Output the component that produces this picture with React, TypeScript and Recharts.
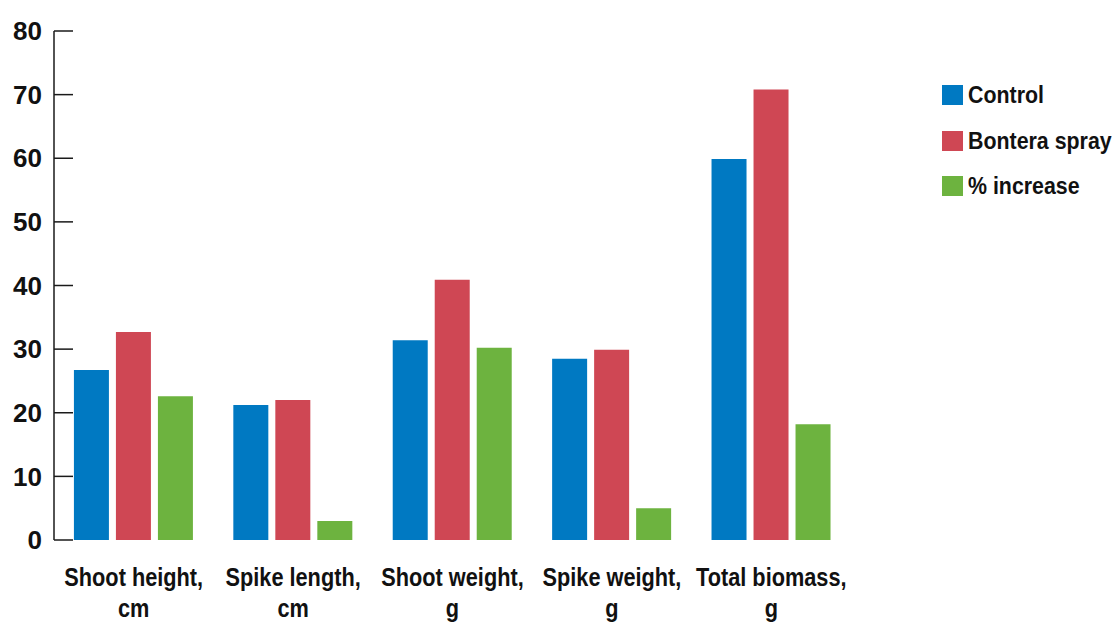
import { BarChart, Bar, XAxis, YAxis, Legend } from 'recharts'

const categories = ['Shoot height, cm', 'Spike length, cm', 'Shoot weight, g', 'Spike weight, g', 'Total biomass, g']
const control = [26.7, 21.2, 31.4, 28.5, 59.9]
const bonteraSpray = [32.7, 22.0, 40.9, 29.9, 70.8]
const percentIncrease = [22.6, 3.0, 30.2, 5.0, 18.2]
const yTicks = [0, 10, 20, 30, 40, 50, 60, 70, 80]
const boundaryTicks = [1, 2, 3, 4, 5]

const series = [
  { key: 'control', name: 'Control', color: '#0079c2' },
  { key: 'bontera', name: 'Bontera spray', color: '#cf4754' },
  { key: 'increase', name: '% increase', color: '#6db33f' },
]

const data = categories.map((cat, i) => ({
  cat,
  control: control[i],
  bontera: bonteraSpray[i],
  increase: percentIncrease[i],
}))

const axisColor = '#1a1a1a'
const textColor = '#111'
const font = '"Liberation Sans", Arial, sans-serif'

// no narrow font installed, so squeeze the bold sans horizontally
const CategoryTick = ({ x, y, payload }: { x?: number; y?: number; payload?: { value: string } }) => {
  const value = payload?.value ?? ''
  const idx = value.indexOf(', ')
  const first = idx >= 0 ? value.slice(0, idx + 1) : value
  const second = idx >= 0 ? value.slice(idx + 2) : ''
  return (
    <text
      transform={`translate(${x} ${y}) scale(0.82 1)`}
      textAnchor="middle"
      fill={textColor}
      style={{ fontFamily: font, fontWeight: 700, fontSize: 26.5 }}
    >
      <tspan x={0} y={46}>{first}</tspan>
      <tspan x={0} y={77}>{second}</tspan>
    </text>
  )
}

const LegendContent = () => (
  <div style={{ fontFamily: font, fontWeight: 700, fontSize: 24, color: textColor }}>
    {series.map(s => (
      <div key={s.key} style={{ display: 'flex', alignItems: 'center', height: 20, marginBottom: 25.5, whiteSpace: 'nowrap' }}>
        <span style={{ display: 'inline-block', flexShrink: 0, width: 21, height: 20, background: s.color, marginRight: 5 }} />
        <span style={{ lineHeight: '20px', display: 'inline-block', transform: 'scaleX(0.89)', transformOrigin: 'left center' }}>{s.name}</span>
      </div>
    ))}
  </div>
)

export default function App() {
  return (
    <div style={{ position: 'absolute', left: 0, top: 0, width: 1114, height: 623, background: '#fff', overflow: 'hidden' }}>
      <BarChart
        width={1114}
        height={623}
        data={data}
        margin={{ top: 31, right: 263, bottom: 0, left: 0 }}
        barCategoryGap="12.5%"
        barGap={7}
      >
        <XAxis
          xAxisId="bounds"
          type="number"
          domain={[0, 5]}
          ticks={boundaryTicks}
          tick={false}
          tickSize={-10}
          height={0}
          axisLine={{ stroke: axisColor, strokeWidth: 1.5 }}
          tickLine={{ stroke: axisColor, strokeWidth: 1.5 }}
        />
        <XAxis
          xAxisId="cat"
          dataKey="cat"
          height={83}
          axisLine={false}
          tickLine={false}
          tickSize={0}
          tickMargin={0}
          interval={0}
          tick={<CategoryTick />}
        />
        <YAxis
          width={54}
          domain={[0, 80]}
          ticks={yTicks}
          interval={0}
          tickSize={-19}
          tickMargin={31}
          axisLine={{ stroke: axisColor, strokeWidth: 1.5 }}
          tickLine={{ stroke: axisColor, strokeWidth: 1.5 }}
          tick={{ fill: textColor, fontSize: 26, fontWeight: 700, fontFamily: font }}
        />
        <Legend
          layout="horizontal"
          align="center"
          verticalAlign="middle"
          content={<LegendContent />}
          wrapperStyle={{ left: 942, top: 85, width: 172, height: 150 }}
        />
        {series.map(s => (
          <Bar key={s.key} xAxisId="cat" dataKey={s.key} name={s.name} fill={s.color} isAnimationActive={false} />
        ))}
      </BarChart>
    </div>
  )
}
